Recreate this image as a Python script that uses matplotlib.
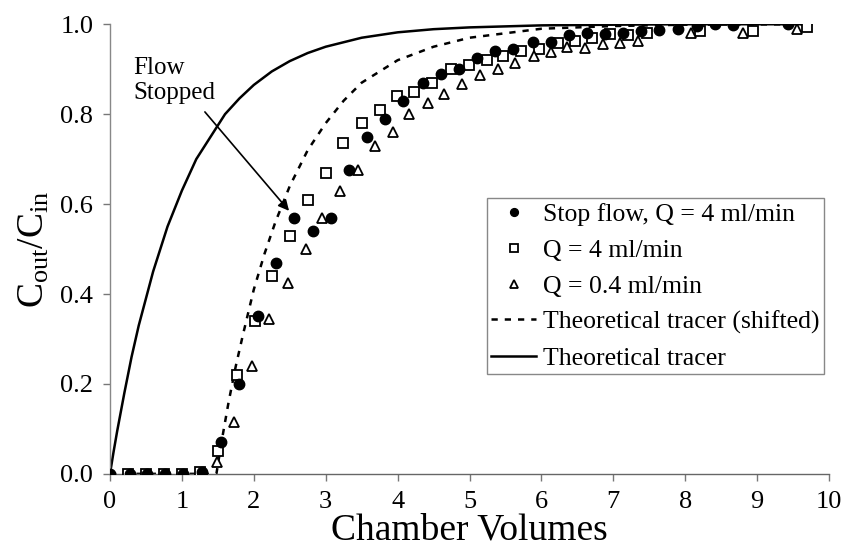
import matplotlib
matplotlib.use("Agg")
import matplotlib.pyplot as plt

plt.rcParams['font.family'] = ['Liberation Serif', 'DejaVu Serif']
plt.rcParams['mathtext.fontset'] = 'custom'
plt.rcParams['mathtext.rm'] = 'Liberation Serif'
plt.rcParams['mathtext.it'] = 'Liberation Serif:italic'

# Stop flow, Q = 4 ml/min (filled circles)
stop_x = [0, 0.28, 0.52, 0.77, 1.02, 1.28, 1.55, 1.80, 2.06, 2.31, 2.56, 2.83,
          3.08, 3.33, 3.58, 3.83, 4.08, 4.35, 4.60, 4.85, 5.10, 5.36, 5.61,
          5.88, 6.13, 6.38, 6.63, 6.88, 7.13, 7.38, 7.63, 7.90, 8.16, 8.41,
          8.66, 9.43]
stop_y = [0, 0, 0, 0, 0, 0.005, 0.07, 0.20, 0.35, 0.47, 0.57, 0.54,
          0.57, 0.675, 0.75, 0.79, 0.83, 0.87, 0.89, 0.90, 0.925, 0.94, 0.945,
          0.96, 0.96, 0.975, 0.98, 0.978, 0.98, 0.985, 0.987, 0.99, 0.995, 1.0,
          0.998, 1.0]

# Q = 4 ml/min (open squares)
q4_x = [0.25, 0.5, 0.75, 1.0, 1.25, 1.50, 1.77, 2.01, 2.26, 2.51, 2.76, 3.01,
        3.24, 3.51, 3.76, 3.99, 4.23, 4.48, 4.74, 4.99, 5.24, 5.47, 5.72, 5.97,
        6.23, 6.46, 6.71, 6.96, 7.21, 7.47, 8.20, 8.94, 9.69]
q4_y = [0, 0, 0, 0, 0.005, 0.05, 0.22, 0.34, 0.44, 0.53, 0.61, 0.67,
        0.735, 0.78, 0.81, 0.84, 0.85, 0.87, 0.90, 0.91, 0.92, 0.93, 0.94, 0.945,
        0.958, 0.962, 0.97, 0.978, 0.976, 0.98, 0.985, 0.985, 0.993]

# Q = 0.4 ml/min (open triangles)
q04_x = [1.49, 1.73, 1.98, 2.21, 2.47, 2.72, 2.95, 3.20, 3.45, 3.69, 3.93,
         4.16, 4.42, 4.65, 4.90, 5.14, 5.39, 5.63, 5.89, 6.13, 6.36, 6.60,
         6.85, 7.09, 7.34, 8.08, 8.80, 9.55]
q04_y = [0.027, 0.115, 0.24, 0.345, 0.425, 0.50, 0.57, 0.63, 0.675, 0.73, 0.76,
         0.80, 0.825, 0.845, 0.867, 0.887, 0.90, 0.914, 0.93, 0.938, 0.95, 0.947,
         0.956, 0.958, 0.962, 0.98, 0.98, 0.99]

# Theoretical tracer (shifted), dashed
shift_x = [0, 1.48, 1.55, 1.65, 1.75, 1.85, 2.0, 2.15, 2.3, 2.5, 2.75, 3.0,
           3.25, 3.5, 4.0, 4.5, 5.0, 5.5, 6.0, 7.0, 8.0, 9.75]
shift_y = [0, 0, 0.07, 0.16, 0.24, 0.31, 0.41, 0.49, 0.56, 0.64, 0.72, 0.78,
           0.83, 0.87, 0.92, 0.95, 0.97, 0.98, 0.99, 0.996, 0.999, 1.0]

# Theoretical tracer, solid
theo_x = [0, 0.05, 0.1, 0.2, 0.3, 0.4, 0.5, 0.6, 0.7, 0.8, 0.9, 1.0, 1.2, 1.4,
          1.6, 1.8, 2.0, 2.25, 2.5, 2.75, 3.0, 3.5, 4.0, 4.5, 5.0, 6.0, 7.0,
          8.0, 9.75]
theo_y = [0, 0.049, 0.095, 0.18, 0.26, 0.33, 0.39, 0.45, 0.50, 0.55, 0.59, 0.63,
          0.70, 0.75, 0.80, 0.835, 0.865, 0.895, 0.918, 0.936, 0.95, 0.97, 0.982,
          0.989, 0.993, 0.9975, 0.999, 1.0, 1.0]

x_ticks = [0, 1, 2, 3, 4, 5, 6, 7, 8, 9, 10]
y_ticks = [0.0, 0.2, 0.4, 0.6, 0.8, 1.0]

fig = plt.figure(figsize=(8.46, 5.51), dpi=100)
ax = fig.add_axes([0.130, 0.140, 0.850, 0.816])

ax.plot(stop_x, stop_y, linestyle='none', marker='o', ms=7.5, mfc='black',
        mec='black', label='Stop flow, Q = 4 ml/min', zorder=4)
ax.plot(q4_x, q4_y, linestyle='none', marker='s', ms=7, mfc='white',
        mec='black', mew=1.3, label='Q = 4 ml/min', zorder=3)
ax.plot(q04_x, q04_y, linestyle='none', marker='^', ms=7.5, mfc='white',
        mec='black', mew=1.3, label='Q = 0.4 ml/min', zorder=3)
ax.plot(shift_x, shift_y, color='black', lw=1.8, linestyle=(0, (2.5, 2.8)),
        label='Theoretical tracer (shifted)', zorder=2)
ax.plot(theo_x, theo_y, color='black', lw=1.8, label='Theoretical tracer', zorder=2)

ax.set_xlim(0, 10)
ax.set_ylim(0, 1.0)
ax.set_xticks(x_ticks)
ax.set_xticklabels([str(t) for t in x_ticks])
ax.set_yticks(y_ticks)
ax.set_yticklabels([f"{t:.1f}" for t in y_ticks])
ax.tick_params(axis='both', direction='out', length=5, width=1, color='#777777',
               labelsize=19)
ax.tick_params(axis='x', pad=7)
ax.tick_params(axis='y', pad=7)

for s in ['top', 'right']:
    ax.spines[s].set_visible(False)
ax.spines['left'].set_color('#888888')
ax.spines['bottom'].set_color('#666666')
ax.spines['left'].set_linewidth(1)
ax.spines['bottom'].set_linewidth(1)

ax.set_xlabel('Chamber Volumes', fontsize=27, labelpad=0)
ax.set_ylabel(r'C$_{\mathrm{out}}$/C$_{\mathrm{in}}$', fontsize=27, labelpad=6)

ax.text(0.32, 0.928, 'Flow\nStopped', fontsize=18, ha='left', va='top',
        linespacing=1.2)
ax.annotate('', xy=(2.49, 0.585), xytext=(1.32, 0.805),
            arrowprops=dict(arrowstyle='-|>', lw=1.2, color='black',
                            mutation_scale=16, shrinkA=0, shrinkB=0))

leg = ax.legend(loc='upper left', bbox_to_anchor=(0.524, 0.613), borderaxespad=0,
                fontsize=18.5, frameon=True, fancybox=False, edgecolor='#888888',
                framealpha=1, handlelength=1.75, handletextpad=0.25,
                labelspacing=0.5, borderpad=0.18, markerscale=0.75)
leg.get_frame().set_linewidth(1)

fig.savefig('out.png', dpi=100)
